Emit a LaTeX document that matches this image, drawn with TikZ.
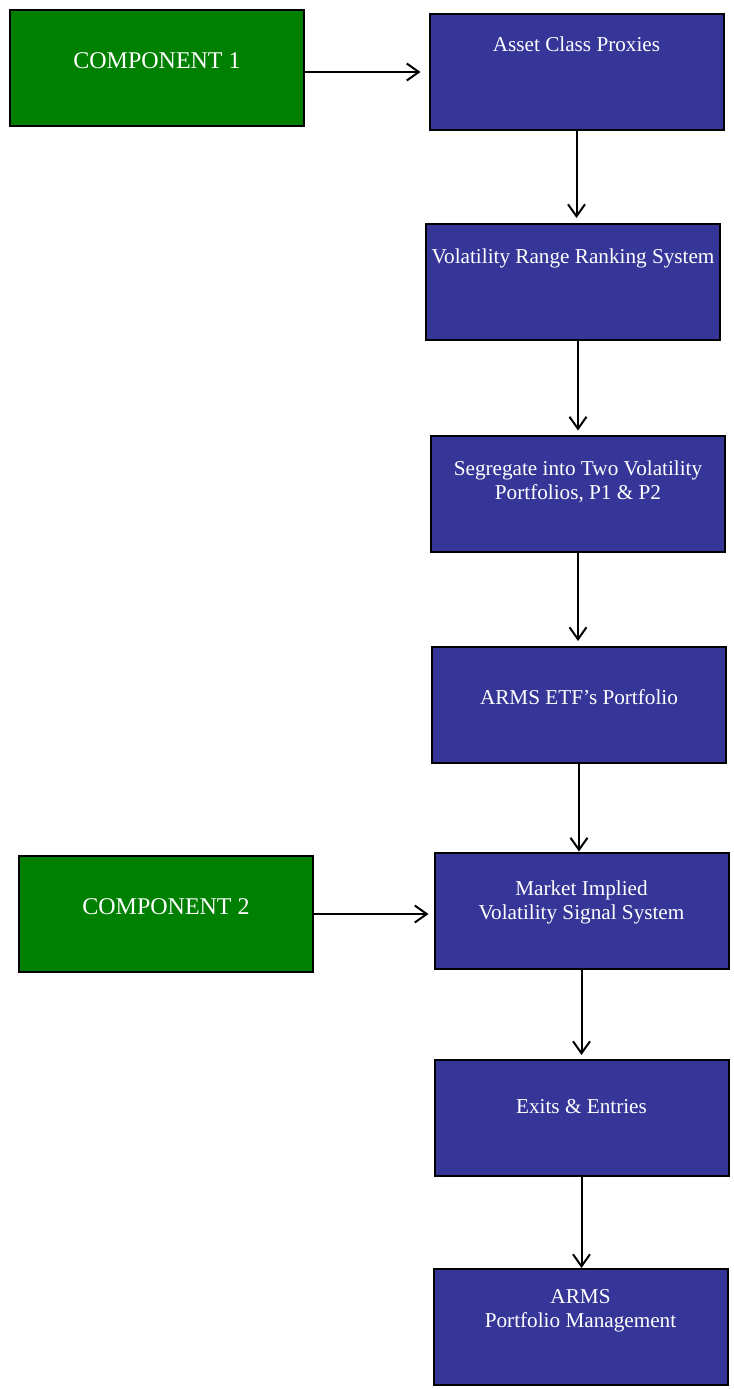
\documentclass[tikz,border=0pt]{standalone}
\usepackage{fontspec}
\setmainfont{Liberation Serif}
\usetikzlibrary{arrows.meta,positioning}
\definecolor{boxblue}{RGB}{54,54,153}
\definecolor{boxgreen}{RGB}{0,128,0}

\begin{document}
\begin{tikzpicture}[
x=0.5pt,y=-0.5pt,
>={Straight Barb[length=6pt,width=8.5pt]},
line width=1pt,
node distance=104.5pt,
blk/.style={draw,fill=boxblue,text=white,align=center,inner sep=0pt,
	minimum width=147pt,minimum height=58pt,font=\fontsize{10.6}{12}\selectfont},
grn/.style={blk,fill=boxgreen,text height=8pt,text depth=8pt,font=\fontsize{12}{14}\selectfont},
txttop/.code={\pgfmathsetmacro\tdep{58-#1}\edef\tmp{\noexpand\tikzset{text height=#1pt,text depth=\tdep pt}}\tmp},
arr/.style={draw,->,shorten >=2pt}
]
\useasboundingbox (0,0) rectangle (734,1389);

\node[grn] (c1) at (157,68) {COMPONENT 1};
\node[grn] (c2) at (166,914) {COMPONENT 2};

\node[blk,txttop=18.5] (acp) at (576.5,72) {Asset Class Proxies};
	\node[blk,txttop=19.5] (vrrs) [below of = acp,xshift=-1.75pt,yshift=-0.5pt] {Volatility Range Ranking System};
	\node[blk,txttop=32] (seg) [below of = vrrs,xshift=2.5pt,yshift=-1.25pt] {Segregate into Two Volatility\\Portfolios, P1 \& P2};
	\node[blk,txttop=28.5] (etf) [below of = seg,xshift=0.5pt,yshift=-1.25pt] {ARMS ETF’s Portfolio};
	\node[blk,txttop=33.5] (mkt) [below of = etf,xshift=1.25pt,yshift=1.75pt] {Market Implied\\Volatility Signal System};
	\node[blk,txttop=26.5] (exits) [below of = mkt,yshift=0.75pt] {Exits \& Entries};
	\node[blk,txttop=29] (pm) [below of = exits,xshift=-0.5pt] {ARMS\\Portfolio Management};

\path[arr,shorten >=4pt] (c1.east |- acp) -- (acp);
\path[arr,shorten >=2.5pt] (c2.east) -- (c2.east -| mkt.west);

\path[arr,shorten >=2.5pt] (acp.south) -- (acp.south |- vrrs.north);
\path[arr] (seg.north |- vrrs.south) -- (seg.north);
\path[arr,shorten >=2.5pt] (seg.south) -- (seg.south |- etf.north);
\path[arr,shorten >=0pt] (etf.south) -- (etf.south |- mkt.north);
\path[arr] (mkt.south) -- (mkt.south |- exits.north);
\path[arr,shorten >=0pt] (exits.south) -- (exits.south |- pm.north);

\end{tikzpicture}
\end{document}
